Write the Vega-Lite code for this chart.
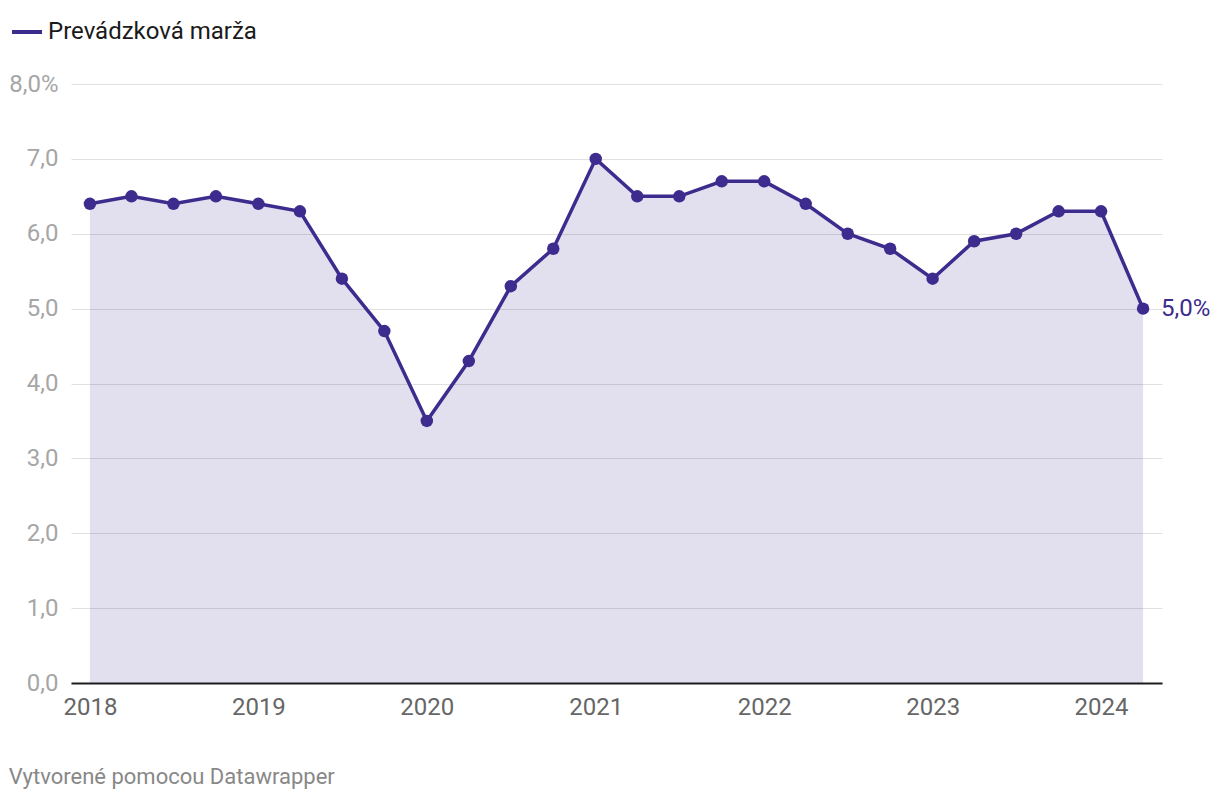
{
  "$schema": "https://vega.github.io/schema/vega-lite/v6.json",
  "width": 1091,
  "height": 599,
  "autosize": {"type": "none"},
  "padding": {"left": 71, "top": 84, "right": 58, "bottom": 117},
  "background": "white",
  "config": {
    "font": "Roboto",
    "view": {"stroke": null}
  },
  "title": {
    "text": "Vytvorené pomocou Datawrapper",
    "orient": "bottom",
    "anchor": "start",
    "frame": "bounds",
    "fontSize": 22,
    "fontWeight": "normal",
    "color": "#888888",
    "font": "Roboto",
    "offset": 48
  },
  "data": {
    "values": [
      {"date": "2018-01-01T00:00", "value": 6.4},
      {"date": "2018-04-01T00:00", "value": 6.5},
      {"date": "2018-07-01T00:00", "value": 6.4},
      {"date": "2018-10-01T00:00", "value": 6.5},
      {"date": "2019-01-01T00:00", "value": 6.4},
      {"date": "2019-04-01T00:00", "value": 6.3},
      {"date": "2019-07-01T00:00", "value": 5.4},
      {"date": "2019-10-01T00:00", "value": 4.7},
      {"date": "2020-01-01T00:00", "value": 3.5},
      {"date": "2020-04-01T00:00", "value": 4.3},
      {"date": "2020-07-01T00:00", "value": 5.3},
      {"date": "2020-10-01T00:00", "value": 5.8},
      {"date": "2021-01-01T00:00", "value": 7.0},
      {"date": "2021-04-01T00:00", "value": 6.5},
      {"date": "2021-07-01T00:00", "value": 6.5},
      {"date": "2021-10-01T00:00", "value": 6.7},
      {"date": "2022-01-01T00:00", "value": 6.7},
      {"date": "2022-04-01T00:00", "value": 6.4},
      {"date": "2022-07-01T00:00", "value": 6.0},
      {"date": "2022-10-01T00:00", "value": 5.8},
      {"date": "2023-01-01T00:00", "value": 5.4},
      {"date": "2023-04-01T00:00", "value": 5.9},
      {"date": "2023-07-01T00:00", "value": 6.0},
      {"date": "2023-10-01T00:00", "value": 6.3},
      {"date": "2024-01-01T00:00", "value": 6.3},
      {"date": "2024-04-01T00:00", "value": 5.0}
    ]
  },
  "encoding": {
    "x": {
      "field": "date",
      "type": "temporal",
      "scale": {
        "domain": [
          {"year": 2017, "month": 11, "date": 21},
          {"year": 2024, "month": 5, "date": 12}
        ]
      },
      "axis": {
        "title": null,
        "format": "%Y",
        "values": [
          {"year": 2018, "month": 1, "date": 1},
          {"year": 2019, "month": 1, "date": 1},
          {"year": 2020, "month": 1, "date": 1},
          {"year": 2021, "month": 1, "date": 1},
          {"year": 2022, "month": 1, "date": 1},
          {"year": 2023, "month": 1, "date": 1},
          {"year": 2024, "month": 1, "date": 1}
        ],
        "grid": false,
        "ticks": false,
        "tickSize": 0,
        "domain": true,
        "domainColor": "#1d1d1d",
        "domainWidth": 2,
        "labelFontSize": 24,
        "labelColor": "#666666",
        "labelPadding": 12,
        "labelFont": "Roboto",
        "zindex": 1
      }
    },
    "y": {
      "field": "value",
      "type": "quantitative",
      "scale": {"domain": [0, 8], "nice": false, "zero": true},
      "axis": {
        "title": null,
        "values": [0, 1, 2, 3, 4, 5, 6, 7, 8],
        "labelExpr": "datum.value == 8 ? '8,0%' : replace(format(datum.value, '.1f'), '.', ',')",
        "grid": true,
        "gridColor": "#e0e0e0",
        "gridWidth": 1,
        "ticks": false,
        "tickSize": 0,
        "domain": false,
        "labelFontSize": 24,
        "labelColor": "#a6a6a6",
        "labelPadding": 13,
        "labelFont": "Roboto"
      }
    }
  },
  "layer": [
    {
      "mark": {"type": "area", "color": "#3d2b8e", "fillOpacity": 0.15, "interpolate": "linear"}
    },
    {
      "mark": {"type": "line", "strokeWidth": 3.5, "interpolate": "linear"},
      "encoding": {
        "color": {
          "datum": "Prevádzková marža",
          "scale": {"range": ["#3d2b8e"]},
          "legend": {
            "orient": "none",
            "legendX": -61,
            "legendY": -69,
            "title": null,
            "symbolType": "stroke",
            "symbolSize": 900,
            "symbolStrokeWidth": 4,
            "labelFontSize": 24,
            "labelFont": "Roboto",
            "labelColor": "#1a1a1a",
            "labelOffset": 4,
            "labelLimit": 500
          }
        }
      }
    },
    {
      "mark": {"type": "point", "filled": true, "size": 155, "color": "#3d2b8e", "opacity": 1}
    },
    {
      "transform": [
        {"filter": "year(datum.date) == 2024 && month(datum.date) == 3"},
        {"calculate": "replace(format(datum.value, '.1f'), '.', ',') + '%'", "as": "label"}
      ],
      "mark": {"type": "text", "align": "left", "baseline": "middle", "dx": 18, "fontSize": 24, "color": "#3d2b8e", "font": "Roboto"},
      "encoding": {"text": {"field": "label"}}
    }
  ]
}
